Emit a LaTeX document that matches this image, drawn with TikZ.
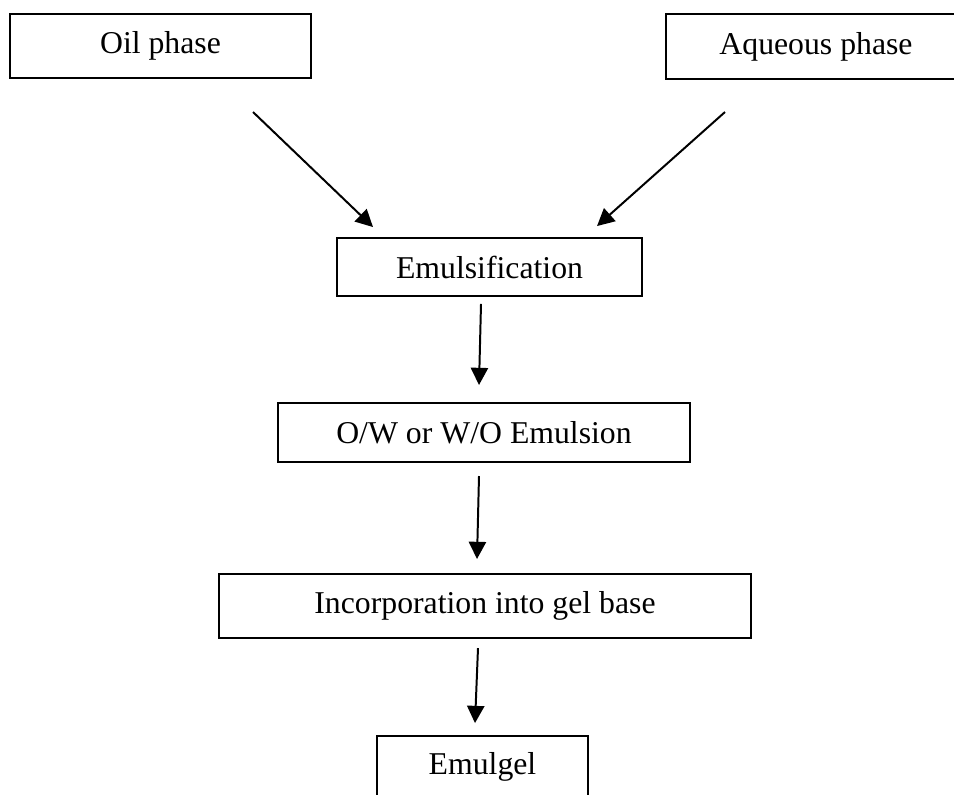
\documentclass[tikz,border=0pt]{standalone}
\usepackage{fontspec}
\setmainfont{Liberation Serif}
\usetikzlibrary{arrows.meta,positioning}

\begin{document}
\begin{tikzpicture}[x=0.378pt,y=-0.378pt,
box/.style={draw,line width=0.9pt,inner sep=0pt,outer sep=0pt,font=\fontsize{12}{14}\selectfont},
arr/.style={-{Triangle[length=6.5pt,width=6.5pt]},line width=0.75pt}]
\useasboundingbox (0,0) rectangle (954,794);
\node[box,minimum width=113.8pt,minimum height=24.2pt] (oil) at (160.5,46) {Oil phase};
\node[box,minimum width=113.5pt,minimum height=24.6pt] (aq) at (816,46.5) {Aqueous phase};
\node[box,minimum width=115.3pt,minimum height=21.9pt] (emul) at (489.5,267) {Emulsification};
\node[box,minimum width=155.7pt,minimum height=22.3pt] (ow) at (484,432.5) {O/W or W/O Emulsion};
\node[box,minimum width=201.1pt,minimum height=24.2pt] (inc) at (485,606) {Incorporation into gel base};
\node[box,minimum width=79.8pt,minimum height=23.4pt] (gel) at (482.5,767) {Emulgel};
\coordinate (oilout) at (253,112);
\coordinate (aqout) at (725,112);
\draw[arr] (oilout)--([shift={(36,-11)}]emul.north west);
\draw[arr] (aqout)--([shift={(-45,-12)}]emul.north east);
\draw[arr] ([shift={(-8.5,8)}]emul.south)--([shift={(-5,-18)}]ow.north);
\draw[arr] ([shift={(-5,14)}]ow.south)--([shift={(-8,-15)}]inc.north);
\draw[arr] ([shift={(-7,10)}]inc.south)--([shift={(-7.5,-13)}]gel.north);
\end{tikzpicture}
\end{document}
